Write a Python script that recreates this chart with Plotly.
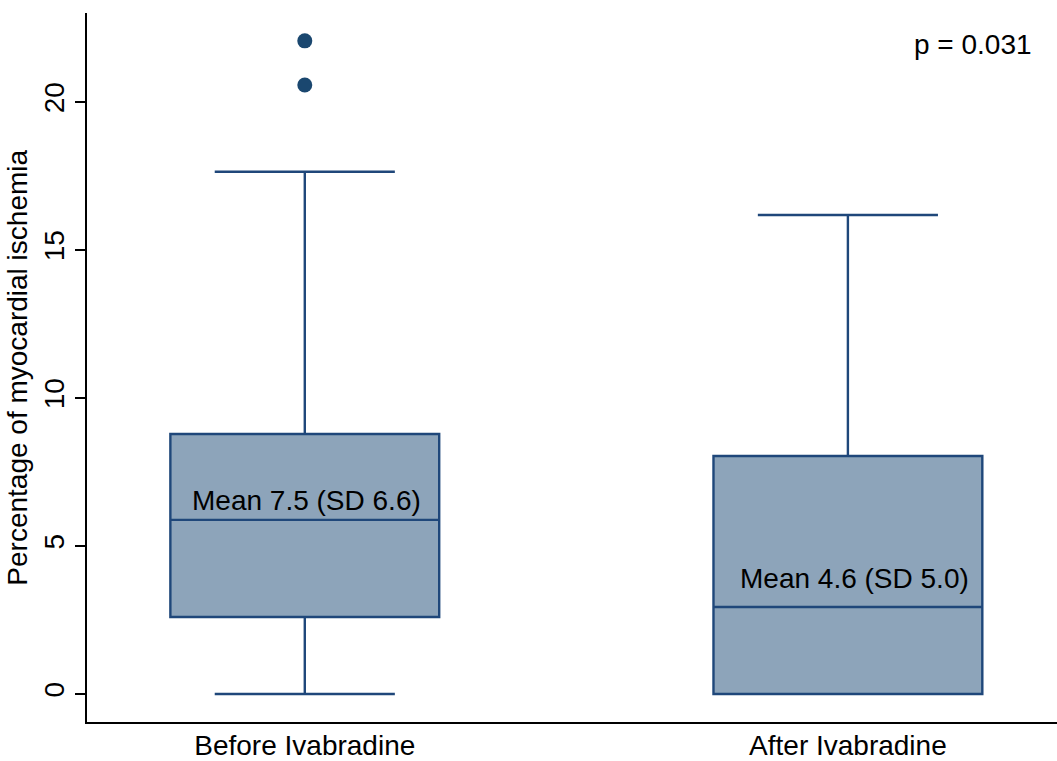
import plotly.graph_objects as go

categories = ["Before Ivabradine", "After Ivabradine"]
positions = [0, 1]
q1 = [2.60, 0.0]
median = [5.88, 2.94]
q3 = [8.78, 8.04]
lowerfence = [0.0, 0.0]
upperfence = [17.64, 16.18]
outliers_y = [22.06, 20.57]
outliers_x = [0, 0]
mean_labels = ["Mean 7.5 (SD 6.6)", "Mean 4.6 (SD 5.0)"]
label_pos_y = [6.55, 3.89]
label_pos_x = [0.004, 1.013]
p_text = "p = 0.031"
y_title = "Percentage of myocardial ischemia"

FONT = "Liberation Sans, Arial, sans-serif"
LINE = "#1f477a"
FILL = "#8da4ba"

fig = go.Figure()
fig.add_trace(go.Box(
    x=positions, q1=q1, median=median, q3=q3,
    lowerfence=lowerfence, upperfence=upperfence,
    fillcolor=FILL, line=dict(color=LINE, width=2.4),
    width=0.495, whiskerwidth=0.67, boxpoints=False,
    showlegend=False, hoverinfo="skip",
))
fig.add_trace(go.Scatter(
    x=outliers_x, y=outliers_y, mode="markers",
    marker=dict(color="#1a476f", size=15), showlegend=False,
))
for t, xx, yy in zip(mean_labels, label_pos_x, label_pos_y):
    fig.add_annotation(x=xx, y=yy, xref="x", yref="y", text=t, showarrow=False,
                       xanchor="center", yanchor="middle",
                       font=dict(family=FONT, size=28, color="black"))
fig.add_annotation(x=0.913, y=0.956, xref="paper", yref="paper", text=p_text,
                   showarrow=False, xanchor="center", yanchor="middle",
                   font=dict(family=FONT, size=28, color="black"))
fig.add_annotation(x=-0.072, y=0.5, xref="paper", yref="paper", text=y_title,
                   textangle=-90, showarrow=False, xanchor="center", yanchor="middle",
                   font=dict(family=FONT, size=28, color="black"))

fig.update_layout(
    width=1057, height=761,
    margin=dict(l=87, r=0, t=13, b=39),
    plot_bgcolor="white", paper_bgcolor="white",
    font=dict(family=FONT, size=28, color="black"),
)
fig.update_xaxes(
    range=[-0.401, 1.385], tickvals=positions, ticktext=categories,
    showline=True, linecolor="black", linewidth=2, ticks="",
    showgrid=False, zeroline=False, automargin=False,
    tickfont=dict(size=28), ticklabelstandoff=-3,
)
fig.update_yaxes(
    range=[-0.946, 23.0], tickvals=[0, 5, 10, 15, 20],
    showline=True, linecolor="black", linewidth=2,
    ticks="outside", ticklen=10, tickwidth=2, tickcolor="black",
    tickangle=-90, showgrid=False, zeroline=False, automargin=False,
    tickfont=dict(size=28),
)
fig.write_html("out.html", config={"displayModeBar": False},
               post_script="document.body.style.margin='0';document.body.style.overflow='hidden';")
